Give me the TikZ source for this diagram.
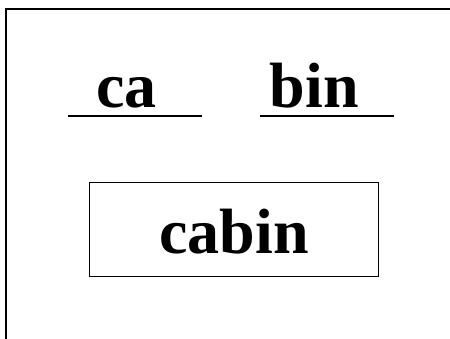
\documentclass[tikz,border=0pt]{standalone}
\usepackage{fontspec}
\setmainfont{Liberation Serif}
\begin{document}
\begin{tikzpicture}[x=1pt,y=-1pt,
  word/.style={font=\fontsize{64}{70}\selectfont\bfseries, inner sep=0pt, anchor=base},
  rule/.style={line width=1.4pt},
  framebox/.style={draw, line width=1.4pt, inner sep=0pt, anchor=base,
    text height=71pt, text depth=23.4pt, minimum width=288.6pt,
    font=\fontsize{64}{70}\selectfont\bfseries}]
\useasboundingbox (0,0) rectangle (450,339);
\draw[line width=2pt] (6,339) -- (6,9) -- (450,9);
\node[word] (ca) at (126.7,108) {ca};
\node[word] (bin) at (314.2,108) {bin};
\coordinate (u1a) at (68,116);
\coordinate (u1b) at (202,116);
\coordinate (u2a) at (260,116);
\coordinate (u2b) at (394,116);
\draw[rule] (u1a) -- (u1b);
\draw[rule] (u2a) -- (u2b);
\node[framebox] (cabin) at (234,253.3) {cabin};
\end{tikzpicture}
\end{document}
